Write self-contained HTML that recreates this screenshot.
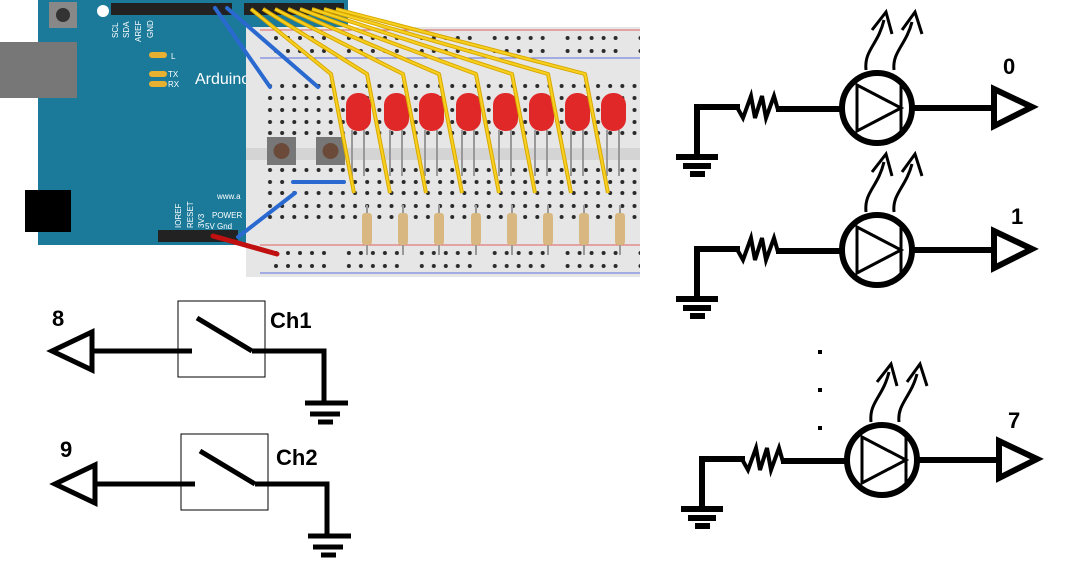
<!DOCTYPE html>
<html><head><meta charset="utf-8"><style>
html,body{margin:0;padding:0;background:#fff;width:1081px;height:583px;overflow:hidden}
svg{display:block}
</style></head><body>
<svg width="1081" height="583" viewBox="0 0 1081 583" xmlns="http://www.w3.org/2000/svg" font-family="Liberation Sans, sans-serif">
<defs>
<pattern id="dots" x="264" y="0" width="12.15" height="600" patternUnits="userSpaceOnUse">
 <circle cx="6" cy="86" r="2" fill="#2a2a2a"/><circle cx="6" cy="98" r="2" fill="#2a2a2a"/><circle cx="6" cy="110" r="2" fill="#2a2a2a"/><circle cx="6" cy="122" r="2" fill="#2a2a2a"/><circle cx="6" cy="133" r="2" fill="#2a2a2a"/>
 <circle cx="6" cy="170" r="2" fill="#2a2a2a"/><circle cx="6" cy="182" r="2" fill="#2a2a2a"/><circle cx="6" cy="193" r="2" fill="#2a2a2a"/><circle cx="6" cy="206" r="2" fill="#2a2a2a"/><circle cx="6" cy="217" r="2" fill="#2a2a2a"/>
</pattern>
<pattern id="rail" x="272" y="0" width="72.9" height="600" patternUnits="userSpaceOnUse">
 <g fill="#2a2a2a">
 <circle cx="4" cy="38" r="2"/><circle cx="16" cy="38" r="2"/><circle cx="28" cy="38" r="2"/><circle cx="40" cy="38" r="2"/><circle cx="52" cy="38" r="2"/>
 <circle cx="4" cy="51" r="2"/><circle cx="16" cy="51" r="2"/><circle cx="28" cy="51" r="2"/><circle cx="40" cy="51" r="2"/><circle cx="52" cy="51" r="2"/>
 <circle cx="4" cy="253" r="2"/><circle cx="16" cy="253" r="2"/><circle cx="28" cy="253" r="2"/><circle cx="40" cy="253" r="2"/><circle cx="52" cy="253" r="2"/>
 <circle cx="4" cy="266" r="2"/><circle cx="16" cy="266" r="2"/><circle cx="28" cy="266" r="2"/><circle cx="40" cy="266" r="2"/><circle cx="52" cy="266" r="2"/>
 </g>
</pattern>
</defs>

<!-- Arduino board -->
<rect x="38" y="0" width="310" height="245" fill="#1b7a9a"/>
<rect x="0" y="42" width="77" height="56" fill="#777"/>
<rect x="25" y="190" width="46" height="42" fill="#000"/>
<rect x="49" y="2" width="28" height="26" fill="#888"/>
<circle cx="63" cy="15" r="7" fill="#333"/>
<circle cx="103" cy="11" r="6" fill="#fff"/>
<rect x="111" y="3" width="121" height="12" fill="#222"/>
<rect x="244" y="3" width="100" height="12" fill="#222"/>
<rect x="158" y="230" width="80" height="12" fill="#222"/>
<g fill="#fff" font-size="8">
<text x="195" y="84" font-size="16">Arduino</text>
<text x="171" y="59">L</text><text x="168" y="77">TX</text><text x="168" y="87">RX</text>
<text x="212" y="218">POWER</text><text x="205" y="229">5V  Gnd</text>
<text x="217" y="199">www.a</text>
</g>
<rect x="149" y="52" width="18" height="6" rx="3" fill="#e8b030"/>
<rect x="149" y="71" width="18" height="6" rx="3" fill="#e8b030"/>
<rect x="149" y="81" width="18" height="6" rx="3" fill="#e8b030"/>
<g fill="#fff" font-size="8">
<text transform="translate(118,38) rotate(-90)">SCL</text>
<text transform="translate(129,38) rotate(-90)">SDA</text>
<text transform="translate(141,42) rotate(-90)">AREF</text>
<text transform="translate(153,38) rotate(-90)">GND</text>
<text transform="translate(181,228) rotate(-90)">IOREF</text>
<text transform="translate(193,228) rotate(-90)">RESET</text>
<text transform="translate(204,228) rotate(-90)">3V3</text>
</g>

<!-- Breadboard -->
<rect x="246" y="27" width="394" height="250" fill="#e6e6e6"/>
<rect x="246" y="148" width="394" height="12" fill="#d4d4d4"/>
<line x1="260" y1="30" x2="640" y2="30" stroke="#e06060" stroke-width="1"/>
<line x1="260" y1="58" x2="640" y2="58" stroke="#6070e0" stroke-width="1"/>
<line x1="260" y1="245" x2="640" y2="245" stroke="#e06060" stroke-width="1"/>
<line x1="260" y1="273" x2="640" y2="273" stroke="#6070e0" stroke-width="1"/>
<rect x="264" y="80" width="376" height="145" fill="url(#dots)"/>
<rect x="272" y="32" width="368" height="240" fill="url(#rail)"/>
<!-- buttons -->
<rect x="267" y="137" width="29" height="28" fill="#777"/><circle cx="281.5" cy="151" r="8" fill="#6b4a3a"/>
<rect x="316" y="137" width="29" height="28" fill="#777"/><circle cx="330.5" cy="151" r="8" fill="#6b4a3a"/>

<!-- LEDs, legs, resistors -->
<g id="leds">
<g stroke="#999" stroke-width="2" fill="none">
<path d="M352 130V176M364 130V176"/><path d="M390 130V176M402 130V176"/><path d="M425 130V176M437 130V176"/><path d="M462 130V176M474 130V176"/>
<path d="M499 130V176M511 130V176"/><path d="M535 130V176M547 130V176"/><path d="M571 130V176M583 130V176"/><path d="M607 130V176M619 130V176"/>
</g>
<g fill="#e02828">
<rect x="346" y="93" width="25" height="38" rx="12"/><rect x="384" y="93" width="25" height="38" rx="12"/><rect x="419" y="93" width="25" height="38" rx="12"/><rect x="456" y="93" width="25" height="38" rx="12"/>
<rect x="493" y="93" width="25" height="38" rx="12"/><rect x="529" y="93" width="25" height="38" rx="12"/><rect x="565" y="93" width="25" height="38" rx="12"/><rect x="601" y="93" width="25" height="38" rx="12"/>
</g>
<g stroke="#999" stroke-width="2"><path d="M367 205V255M403 205V255M439 205V255M476 205V255M512 205V255M548 205V255M584 205V255M620 205V255"/></g>
<g fill="#d8b880">
<rect x="362" y="213" width="10" height="32" rx="3"/><rect x="398" y="213" width="10" height="32" rx="3"/><rect x="434" y="213" width="10" height="32" rx="3"/><rect x="471" y="213" width="10" height="32" rx="3"/>
<rect x="507" y="213" width="10" height="32" rx="3"/><rect x="543" y="213" width="10" height="32" rx="3"/><rect x="579" y="213" width="10" height="32" rx="3"/><rect x="615" y="213" width="10" height="32" rx="3"/>
</g>
</g>

<!-- yellow wires -->
<g stroke="#d8a800" stroke-width="4" fill="none" stroke-linejoin="round">
<polyline points="251,9 331,74 354,193"/><polyline points="263,9 367,74 390,193"/><polyline points="275,9 403,74 426,193"/><polyline points="288,9 439,74 462,193"/>
<polyline points="300,9 476,74 499,193"/><polyline points="312,9 512,74 535,193"/><polyline points="324,9 548,74 571,193"/><polyline points="336,9 585,74 608,193"/>
</g>
<g stroke="#f8d020" stroke-width="2" fill="none" stroke-linejoin="round">
<polyline points="251,9 331,74 354,193"/><polyline points="263,9 367,74 390,193"/><polyline points="275,9 403,74 426,193"/><polyline points="288,9 439,74 462,193"/>
<polyline points="300,9 476,74 499,193"/><polyline points="312,9 512,74 535,193"/><polyline points="324,9 548,74 571,193"/><polyline points="336,9 585,74 608,193"/>
</g>
<!-- blue & red wires -->
<g stroke="#2a6ad0" stroke-width="4" stroke-linecap="round">
<line x1="215" y1="8" x2="270" y2="87"/><line x1="227" y1="8" x2="318" y2="87"/>
<line x1="293" y1="182" x2="344" y2="182"/><line x1="295" y1="193" x2="238" y2="237"/>
</g>
<line x1="213" y1="236" x2="277" y2="254" stroke="#c01010" stroke-width="5" stroke-linecap="round"/>

<!-- LED schematics -->
<g id="blk0" stroke="#000" stroke-width="6" fill="none">
 <polyline points="697,157 697,107 740,107"/>
 <polyline stroke-width="4" points="738,109 743,118 751,96 755,118 762,96 766,118 774,96 778,110"/>
 <line x1="776" y1="109" x2="841" y2="109"/>
 <circle cx="877" cy="108" r="35"/>
 <line x1="913" y1="108" x2="994" y2="108"/>
 <polygon points="994,89 994,126 1032,107"/>
 <line x1="676" y1="157" x2="718" y2="157"/><line x1="683" y1="166" x2="711" y2="166"/><line x1="690" y1="174" x2="705" y2="174"/>
 <g stroke-width="3">
  <polygon points="857,85 857,131 901,108"/><line x1="901" y1="85" x2="901" y2="131"/>
  <path d="M866 70 C864 50 878 45 884 20 M872 30 L886 12 L892 34"/>
  <path d="M894 70 C892 52 906 45 912 22 M902 30 L915 12 L922 34"/>
 </g>
</g>
<text x="1003" y="74" font-size="22" font-weight="bold">0</text>
<use href="#blk0" transform="translate(0,142)"/>
<text x="1011" y="224" font-size="22" font-weight="bold">1</text>
<use href="#blk0" transform="translate(5,352)"/>
<text x="1008" y="428" font-size="22" font-weight="bold">7</text>
<rect x="818" y="350" width="4" height="4" fill="#000"/>
<rect x="818" y="388" width="4" height="4" fill="#000"/>
<rect x="818" y="426" width="4" height="4" fill="#000"/>

<!-- Switch schematics -->
<g id="sw1" stroke="#000" fill="none">
 <rect x="178" y="301" width="87" height="76" stroke-width="1"/>
 <line x1="92" y1="351" x2="192" y2="351" stroke-width="5"/>
 <polygon points="92,332 92,370 52,351" stroke-width="5"/>
 <line x1="197" y1="318" x2="252" y2="351" stroke-width="5"/>
 <polyline points="252,351 324,351 324,403" stroke-width="5"/>
 <line x1="305" y1="403" x2="348" y2="403" stroke-width="5"/><line x1="310" y1="414" x2="340" y2="414" stroke-width="5"/><line x1="318" y1="422" x2="333" y2="422" stroke-width="5"/>
</g>
<text x="52" y="326" font-size="22" font-weight="bold">8</text>
<text x="270" y="328" font-size="22" font-weight="bold">Ch1</text>
<use href="#sw1" transform="translate(3,133)"/>
<text x="60" y="457" font-size="22" font-weight="bold">9</text>
<text x="276" y="465" font-size="22" font-weight="bold">Ch2</text>
</svg>
</body></html>
